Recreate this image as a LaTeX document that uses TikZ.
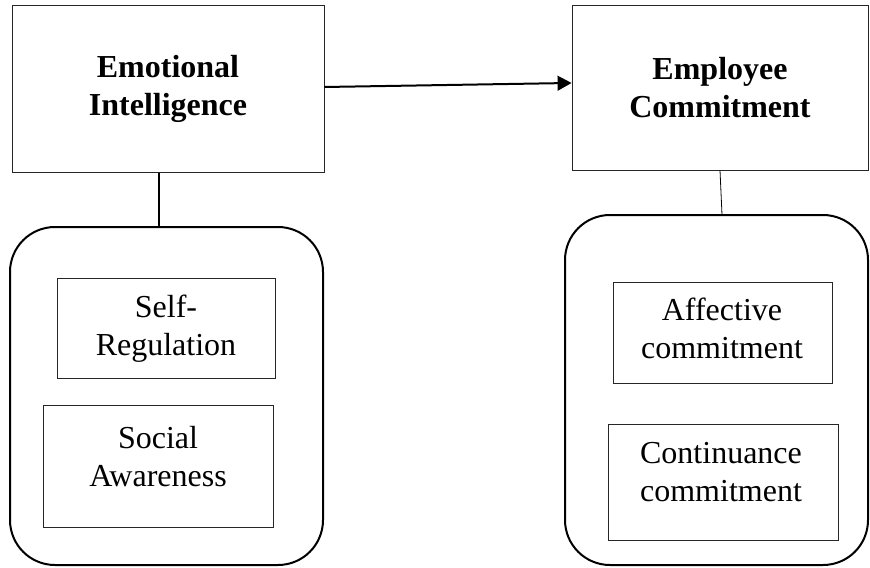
\documentclass[tikz,border=0pt]{standalone}
\usepackage{fontspec}
\setmainfont{Liberation Serif}
\usetikzlibrary{arrows.meta}
\usetikzlibrary{positioning}

\begin{document}
\begin{tikzpicture}[x=0.75pt, y=-0.75pt,
    headbox/.style={draw=black!85, line width=0.6pt, align=center,
        font=\fontsize{24}{28.5}\selectfont\bfseries},
    groupbox/.style={draw, line width=1.5pt, rounded corners=33.75pt},
    itembox/.style={draw=black!85, line width=0.6pt},
    itemtext/.style={anchor=north, inner sep=0pt, align=center,
        font=\fontsize{24}{28.5}\selectfont},
    link/.style={line width=1.4pt},
    thinlink/.style={line width=0.6pt},
    mainarrow/.style={line width=1.5pt, -{Triangle[length=10.5pt,width=11pt]}}]
    \useasboundingbox (0,0) rectangle (870,567);

    % top boxes
    \node[headbox, minimum width=234pt, minimum height=125.6pt] (ei) at (168,89) {Emotional\\Intelligence};
    \node[headbox, minimum width=222pt, minimum height=123.75pt] (ec) at (720,87.5) {Employee\\Commitment};

    % groups
    \node[groupbox, minimum width=234.75pt, minimum height=253.5pt] (eibox) at (166.5,396) {};
    \node[groupbox, minimum width=227.25pt, minimum height=262.5pt] (ecbox) at (716.5,390) {};

    % dimensions
    \node[itembox, minimum width=163.5pt, minimum height=75pt] (sr) at (166,328) {};
    \node[itemtext] (srtext) at (166,295) {Self-\\Regulation};
    \node[itembox, minimum width=172.5pt, minimum height=91.5pt] (sa) at (158,466) {};
    \node[itemtext] (satext) at (158,426) {Social\\Awareness};
    \node[itembox, minimum width=164.25pt, minimum height=75.75pt] (ac) at (722.5,332.5) {};
    \node[itemtext] (actext) at (722,298) {Affective\\commitment};
    \node[itembox, minimum width=172.5pt, minimum height=87pt] (cc) at (723,482) {};
    \node[itemtext] (cctext) at (721,442) {Continuance\\commitment};

    % connectors
    \draw[mainarrow] ([yshift=1.5pt]ei.east) -- ([yshift=3.4pt]ec.west);
    \draw[link] ([xshift=-6.75pt]ei.south) -- ([xshift=-6.75pt]ei.south |- eibox.north);
    \draw[thinlink] (ec.south) -- ([xshift=4.1pt]ecbox.north);
\end{tikzpicture}
\end{document}
